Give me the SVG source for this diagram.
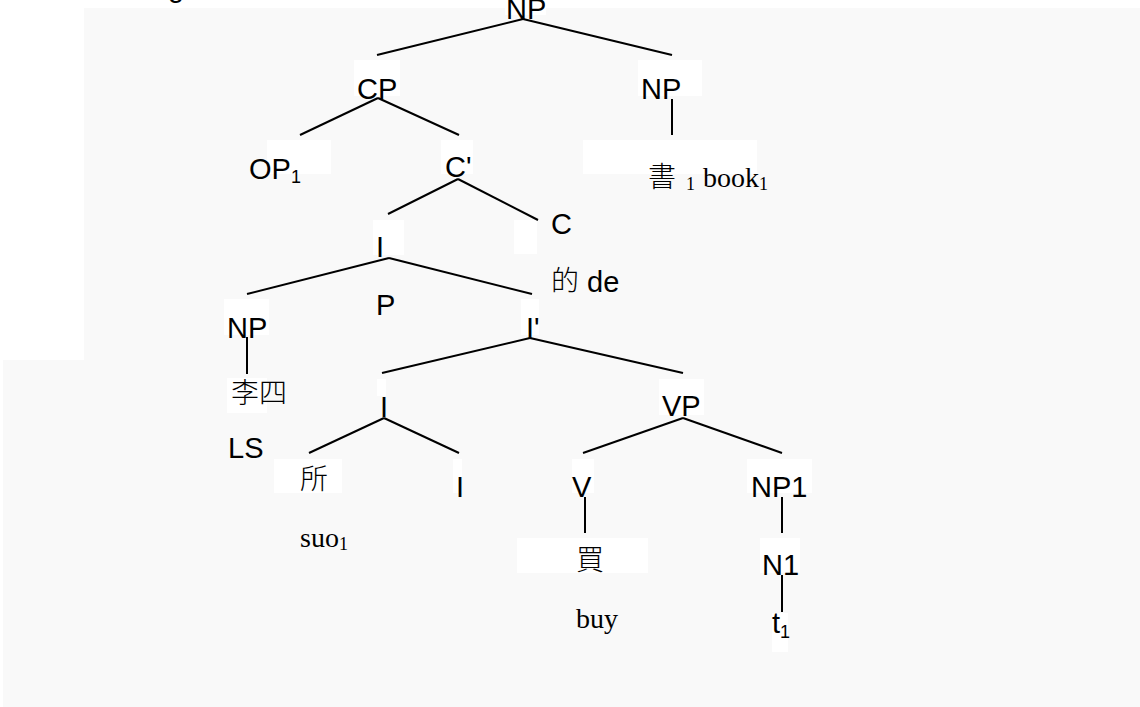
<svg xmlns="http://www.w3.org/2000/svg" width="1140" height="707" viewBox="0 0 1140 707">
<style>
.bx{fill:#ffffff}
.s{font-family:"Liberation Sans",Arial,sans-serif;font-size:29px;fill:#000}
.r{font-family:"Liberation Serif","Times New Roman",serif;font-size:28px;fill:#000}
.c{font-family:"Noto Sans CJK TC","Noto Sans CJK SC",sans-serif;font-size:28px;font-weight:300;fill:#000}
.sub{font-size:18px}
.ln line{stroke:#000;stroke-width:2;stroke-linecap:butt}
</style>
<rect x="0" y="0" width="1140" height="707" fill="#ffffff"/>
<polygon points="84,8 1140,8 1140,707 3,707 3,360 84,360" fill="#f9f9f9"/>
<text class="s" x="168" y="-3">g.</text>

<g id="boxes">
<rect class="bx" x="505" y="0" width="41" height="15"/>
<rect class="bx" x="354" y="60" width="46" height="36"/>
<rect class="bx" x="638" y="60" width="64" height="36"/>
<rect class="bx" x="267" y="140" width="64" height="34"/>
<rect class="bx" x="441" y="140" width="32" height="34"/>
<rect class="bx" x="583" y="140" width="174" height="34"/>
<rect class="bx" x="373" y="220" width="31" height="35"/>
<rect class="bx" x="514" y="220" width="23" height="34"/>
<rect class="bx" x="224" y="299" width="45" height="36"/>
<rect class="bx" x="521" y="299" width="18" height="36"/>
<rect class="bx" x="227" y="378" width="40" height="35"/>
<rect class="bx" x="377" y="379" width="9" height="17"/>
<rect class="bx" x="659" y="379" width="45" height="36"/>
<rect class="bx" x="274" y="459" width="68" height="34"/>
<rect class="bx" x="453" y="459" width="9" height="34"/>
<rect class="bx" x="572" y="459" width="22" height="34"/>
<rect class="bx" x="747" y="459" width="65" height="34"/>
<rect class="bx" x="517" y="538" width="131" height="35"/>
<rect class="bx" x="760" y="538" width="40" height="35"/>
<rect class="bx" x="772" y="613" width="16" height="39"/>
</g>

<g id="connectors" class="ln">
<line x1="523" y1="19" x2="377" y2="55"/>
<line x1="523" y1="19" x2="672" y2="55"/>
<line x1="378" y1="98" x2="300" y2="135"/>
<line x1="378" y1="98" x2="459" y2="135"/>
<line x1="672" y1="99" x2="672" y2="135"/>
<line x1="458" y1="179" x2="388" y2="214"/>
<line x1="458" y1="179" x2="538" y2="220"/>
<line x1="389" y1="258" x2="247" y2="294"/>
<line x1="389" y1="258" x2="532" y2="294"/>
<line x1="247" y1="337" x2="247" y2="374"/>
<line x1="530" y1="338" x2="382" y2="373"/>
<line x1="530" y1="338" x2="683" y2="373"/>
<line x1="384" y1="418" x2="309" y2="453"/>
<line x1="384" y1="418" x2="459" y2="453"/>
<line x1="683" y1="418" x2="583" y2="453"/>
<line x1="683" y1="418" x2="782" y2="453"/>
<line x1="585" y1="497" x2="585" y2="533"/>
<line x1="782" y1="497" x2="782" y2="533"/>
<line x1="782" y1="575" x2="782" y2="612"/>
</g>

<g id="n-np-top"><text class="s" x="506" y="19">NP</text></g>
<g id="n-cp"><text class="s" x="357" y="99">CP</text></g>
<g id="n-np-right"><text class="s" x="641" y="99">NP</text></g>
<g id="n-op"><text class="s" x="249" y="179">OP<tspan class="sub" dy="4">1</tspan></text></g>
<g id="n-cbar"><text class="s" x="445" y="177">C'</text></g>
<g id="n-book"><text class="c" x="648" y="187">書</text><text class="r sub" x="686" y="190">1</text><text class="r" x="703" y="187">book<tspan class="sub" dy="3">1</tspan></text></g>
<g id="n-c"><text class="s" x="551" y="234">C</text></g>
<g id="n-de"><text class="c" x="551" y="291">的</text><text class="s" x="587" y="292">de</text></g>
<g id="n-ip"><text class="s" x="376" y="257">I</text><text class="s" x="376" y="315">P</text></g>
<g id="n-np-left"><text class="s" x="227" y="338">NP</text></g>
<g id="n-ibar"><text class="s" x="526" y="338">I'</text></g>
<g id="n-lisi"><text class="c" x="231" y="403">李四</text><text class="s" x="228" y="458">LS</text></g>
<g id="n-i"><text class="s" x="380" y="417">I</text></g>
<g id="n-vp"><text class="s" x="662" y="416">VP</text></g>
<g id="n-suo"><text class="c" x="300" y="489">所</text><text class="r" x="300" y="547">suo<tspan class="sub" dy="3">1</tspan></text></g>
<g id="n-i2"><text class="s" x="456" y="497">I</text></g>
<g id="n-v"><text class="s" x="572" y="497">V</text></g>
<g id="n-np1"><text class="s" x="751" y="497">NP1</text></g>
<g id="n-mai"><text class="c" x="576" y="570">買</text><text class="r" x="576" y="628">buy</text></g>
<g id="n-n1"><text class="s" x="762" y="575">N1</text></g>
<g id="n-t"><text class="s" x="772" y="633">t<tspan class="sub" dy="5">1</tspan></text></g>
</svg>
